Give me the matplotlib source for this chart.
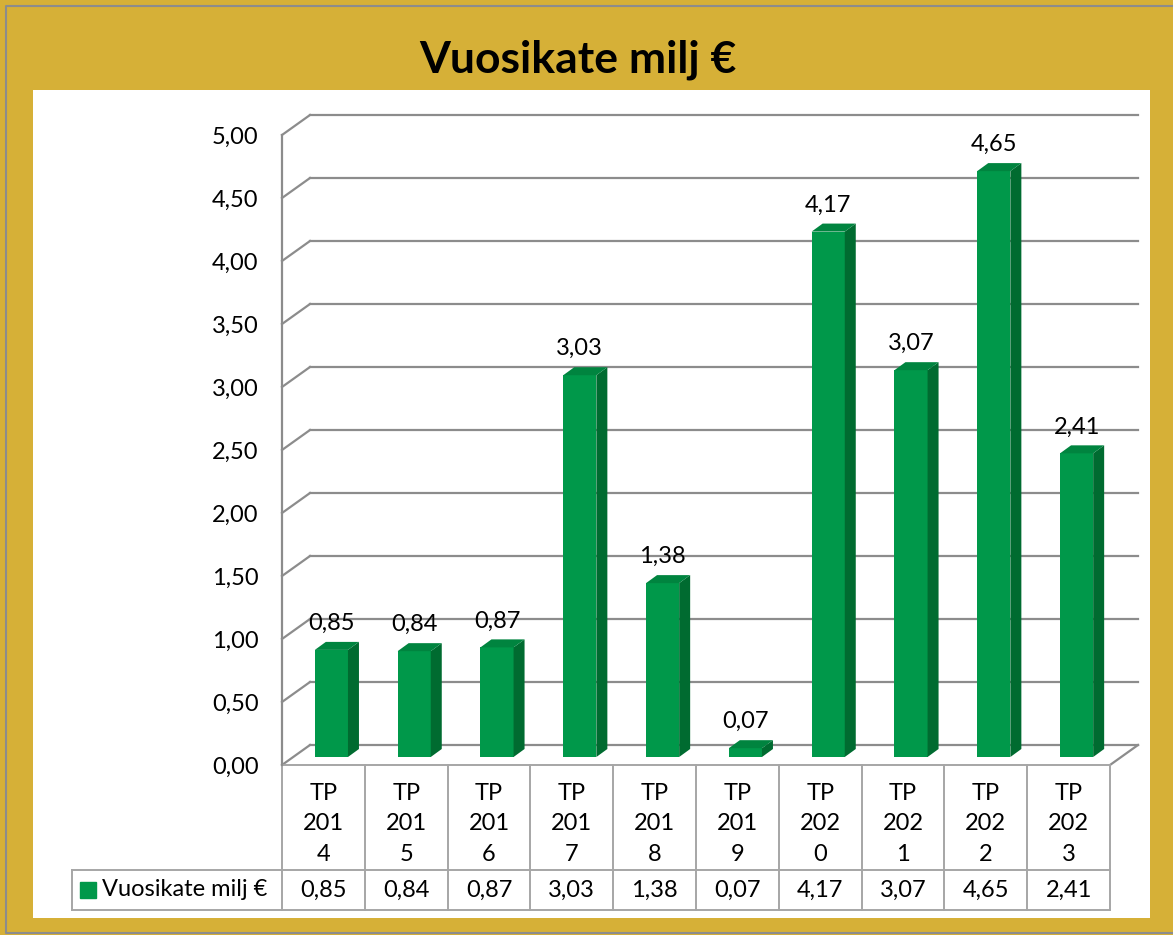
import matplotlib.pyplot as plt
from matplotlib.lines import Line2D
from matplotlib.patches import Polygon, Rectangle

plt.rcParams["font.family"] = ["Lato", "DejaVu Sans"]

# --------------------------------------------------
# Data
# --------------------------------------------------
categories = ["TP 2014", "TP 2015", "TP 2016", "TP 2017", "TP 2018",
              "TP 2019", "TP 2020", "TP 2021", "TP 2022", "TP 2023"]
values = [0.85, 0.84, 0.87, 3.03, 1.38, 0.07, 4.17, 3.07, 4.65, 2.41]
series_name = "Vuosikate milj €"
title = "Vuosikate milj €"
yticks = [0.0, 0.5, 1.0, 1.5, 2.0, 2.5, 3.0, 3.5, 4.0, 4.5, 5.0]


def fi(v):
    return f"{v:.2f}".replace(".", ",")


def wrap(cat):
    tp, year = cat.split()
    return f"{tp}\n{year[:3]}\n{year[3:]}"


# --------------------------------------------------
# Figure / frame
# --------------------------------------------------
W, H = 1173, 935
GOLD = "#D6B037"
GRID = "#8C8C8C"
TABLE = "#A6A6A6"
FRONT = "#00984A"
SIDE = "#006B30"
TOP = "#00843F"
FS = 17

fig = plt.figure(figsize=(W / 100, H / 100), dpi=100, facecolor=GOLD)
fig.patches.append(Rectangle((33 / W, 1 - 918 / H), (1150 - 33) / W, (918 - 90) / H,
                             transform=fig.transFigure, facecolor="white",
                             edgecolor="none", zorder=-2))
# outer border (left, top, bottom)
fig.add_artist(Line2D([1.0, 6 / W, 6 / W, 1.0],
                      [1 - 6 / H, 1 - 6 / H, 1 - 933 / H, 1 - 933 / H],
                      transform=fig.transFigure, color="#8C8C8C", lw=1.5,
                      zorder=-1))
fig.text(578 / W, 1 - 60 / H, title, ha="center", va="center",
         fontsize=32, fontweight="bold", color="black")

ax = fig.add_axes([282 / W, 1 - 765 / H, (1110 - 282) / W, (765 - 135) / H])
ax.set_xlim(-0.5, len(categories) - 0.5)
ax.set_ylim(0, 5)
ax.patch.set_visible(False)
for s in ["top", "right", "bottom"]:
    ax.spines[s].set_visible(False)
ax.spines["left"].set_color(GRID)
ax.spines["left"].set_linewidth(1.6)
ax.set_xticks([])
ax.set_yticks(yticks)
ax.set_yticklabels([fi(t) for t in yticks], fontsize=FS)
ax.tick_params(axis="y", length=0, pad=17)

# pixel scale: 82.8 px per category, 126 px per unit
dx, dy = 28 / 82.8, 20 / 126        # wall depth
bx, by = 8 / 82.8, 8 / 126          # bar front offset
sx, sy = 11 / 82.8, 8 / 126         # bar depth
bw = 0.4
x0, x1 = -0.5, len(categories) - 0.5

# back wall gridlines + left side wall slants
for t in yticks:
    ax.plot([x0 + dx, x1 + dx], [t + dy, t + dy], color=GRID, lw=1.6,
            clip_on=False, zorder=1)
    ax.plot([x0, x0 + dx], [t, t + dy], color=GRID, lw=1.6,
            clip_on=False, zorder=1)
# floor right edge
ax.plot([x1, x1 + dx], [0, dy], color=GRID, lw=1.6, clip_on=False, zorder=1)

# bars
for i, v in enumerate(values):
    l = i - bw / 2 + bx
    r = i + bw / 2 + bx
    b = by
    t = v + by
    ax.add_patch(Polygon([(l, b), (r, b), (r, t), (l, t)], closed=True,
                         facecolor=FRONT, edgecolor="none", zorder=3, clip_on=False))
    ax.add_patch(Polygon([(r, b), (r + sx, b + sy), (r + sx, t + sy), (r, t)],
                         closed=True, facecolor=SIDE, edgecolor="none", zorder=3,
                         clip_on=False))
    ax.add_patch(Polygon([(l, t), (r, t), (r + sx, t + sy), (l + sx, t + sy)],
                         closed=True, facecolor=TOP, edgecolor="none", zorder=3,
                         clip_on=False))
    ax.annotate(fi(v), (i + bx, t), xytext=(0, 19), textcoords="offset points",
                ha="center", va="center", fontsize=FS, zorder=4)

# --------------------------------------------------
# Data table
# --------------------------------------------------
r1 = -(870 - 765) / 126
r2 = -(910 - 765) / 126
leg_left = x0 - (282 - 72) / 82.8
ax.plot([x0, x1], [0, 0], color=TABLE, lw=1.4, clip_on=False, zorder=2)
ax.plot([leg_left, x1], [r1, r1], color=TABLE, lw=1.4, clip_on=False, zorder=2)
ax.plot([leg_left, x1], [r2, r2], color=TABLE, lw=1.4, clip_on=False, zorder=2)
for k in range(len(categories) + 1):
    ax.plot([x0 + k, x0 + k], [0, r2], color=TABLE, lw=1.4, clip_on=False, zorder=2)
ax.plot([leg_left, leg_left], [r1, r2], color=TABLE, lw=1.4, clip_on=False, zorder=2)

cat_y = -(824 - 765) / 126
for i, (c, v) in enumerate(zip(categories, values)):
    ax.text(i, cat_y, wrap(c), ha="center", va="center", fontsize=FS,
            linespacing=1.57)
    ax.text(i, (r1 + r2) / 2, fi(v), ha="center", va="center", fontsize=FS)

ax.plot([leg_left + 16.5 / 82.8], [(r1 + r2) / 2], marker="s", markersize=11,
        color=FRONT, clip_on=False)
ax.text(leg_left + 30 / 82.8, (r1 + r2) / 2, series_name, ha="left",
        va="center", fontsize=FS)

plt.savefig("out.png", dpi=100, facecolor=GOLD)
